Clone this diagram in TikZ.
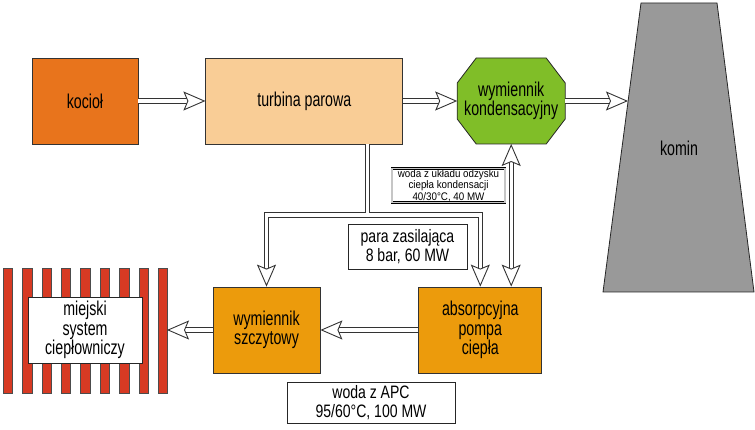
\documentclass[tikz,border=0pt]{standalone}
\usepackage{fontspec}
\setmainfont{Liberation Sans}[FakeStretch=0.71]
\newfontfamily\tagfont{Liberation Sans}[FakeStretch=0.78]
\newfontfamily\notefont{Liberation Sans}[FakeStretch=0.89]
\usetikzlibrary{positioning, backgrounds, arrows.meta}

\definecolor{kociolfill}{RGB}{232,116,28}
\definecolor{turbinafill}{RGB}{249,205,150}
\definecolor{kondfill}{RGB}{128,190,40}
\definecolor{wymfill}{RGB}{236,155,12}
\definecolor{kominfill}{RGB}{153,153,153}
\definecolor{grzejfill}{RGB}{215,58,35}

\begin{document}
\begin{tikzpicture}[
    x=1pt, y=-1pt,
    font=\fontsize{20}{19.5}\selectfont,
    box/.style={
      draw=black!80,
      line width=0.8pt,
      minimum height=86pt,
      align=center,
      inner sep=2pt
    },
    tag/.style={
      draw=black!85,
      line width=0.7pt,
      fill=white,
      align=center,
      inner sep=1pt,
      font=\tagfont\fontsize{18}{19.3}\selectfont
    },
    stripe/.style={draw=black!70, line width=0.6pt, fill=grzejfill},
    pipe/.style={draw=black!80, line width=0.9pt, double=white, double distance=3.4pt},
    >={Stealth[length=22pt, width=19pt, inset=4pt, fill=white, color=black!80, line width=0.9pt]},
    arrow/.style={
      pipe,
      shorten >=18pt,
      postaction={draw=white, line width=1pt, shorten >=0pt, ->}
    },
    biarrow/.style={
      pipe,
      shorten >=18pt, shorten <=18pt,
      postaction={draw=white, line width=1pt, shorten >=0pt, shorten <=0pt, <->}
    },
]
\useasboundingbox (0,0) rectangle (755,430);

% Upper line
\node[box, fill=kociolfill, minimum width=106pt] (kociol) at (85,101) {kocioł};
\node[box, fill=turbinafill, minimum width=197pt, right=67pt of kociol] (turbina) {turbina parowa};
\node[box, draw=none, outer sep=0pt, minimum width=108pt, right=54pt of turbina] (kond) {wymiennik\\kondensacyjny};

% Chimney
\draw[draw=black!85, line width=0.8pt, fill=kominfill] (641,3) -- (717,3) -- (754,292) -- (603,292) -- cycle;
\node (komin) at (679,148) {komin};
\coordinate (kominwall) at (628,101);

% Lower line
\node[box, fill=wymfill, minimum width=107pt] (szczyt) at (266.5,330) {wymiennik\\szczytowy};
\node[box, fill=wymfill, minimum width=123pt, right=98pt of szczyt] (absorp) {absorpcyjna\\pompa\\ciepła};

% District heating
\foreach \i in {0,...,8}
  \draw[stripe] ({3+19.4*\i},268) rectangle ++(9.4,125);
\node[tag, line width=0.8pt, minimum width=114pt, minimum height=66pt, font=\fontsize{20}{19.5}\selectfont] (miejski) at (85,330) {miejski\\system\\ciepłowniczy};
\coordinate (siec) at (167,330);

% Arrows
\coordinate (junction) at (367.5,215);
\draw[arrow] (kociol) -- (turbina);
\draw[arrow] (turbina) -- (kond);
\draw[arrow] (kond) -- (kominwall);
\draw[arrow] (turbina.south -| junction) -- (junction) -| (szczyt.north);
\draw[arrow] ([xshift=1.7pt]junction) -| (absorp.north);
\draw[biarrow] (kond.south) -- (kond.south |- absorp.north);
\draw[arrow] (absorp) -- (szczyt);
\draw[arrow] (szczyt) -- (siec);

% Labels
\node[tag, draw=black, line width=0.7pt, double=gray!45, double distance=1.4pt, minimum width=113pt, minimum height=30pt,
  font=\notefont\fontsize{11}{8.3}\selectfont] (odzysk) at (448.5,185.5)
  {woda z układu odzysku\\ciepła kondensacji\\40/30°C, 40 MW};
\node[tag, minimum width=119pt, minimum height=45pt] (para) at (407.5,246.5)
  {para zasilająca\\8 bar, 60 MW};
\node[tag, minimum width=168pt, minimum height=41pt] (apc) at (371,402.5)
  {woda z APC\\95/60°C, 100 MW};

% Octagon behind its text
\begin{pgfonlayer}{background}
  \draw[draw=black!85, line width=0.8pt, fill=kondfill]
    ([xshift=19pt]kond.north west) -- ([xshift=-19pt]kond.north east)
    -- ([yshift=-25pt]kond.north east) -- ([yshift=25pt]kond.south east)
    -- ([xshift=-19pt]kond.south east) -- ([xshift=19pt]kond.south west)
    -- ([yshift=25pt]kond.south west) -- ([yshift=-25pt]kond.north west) -- cycle;
\end{pgfonlayer}

\end{tikzpicture}
\end{document}
